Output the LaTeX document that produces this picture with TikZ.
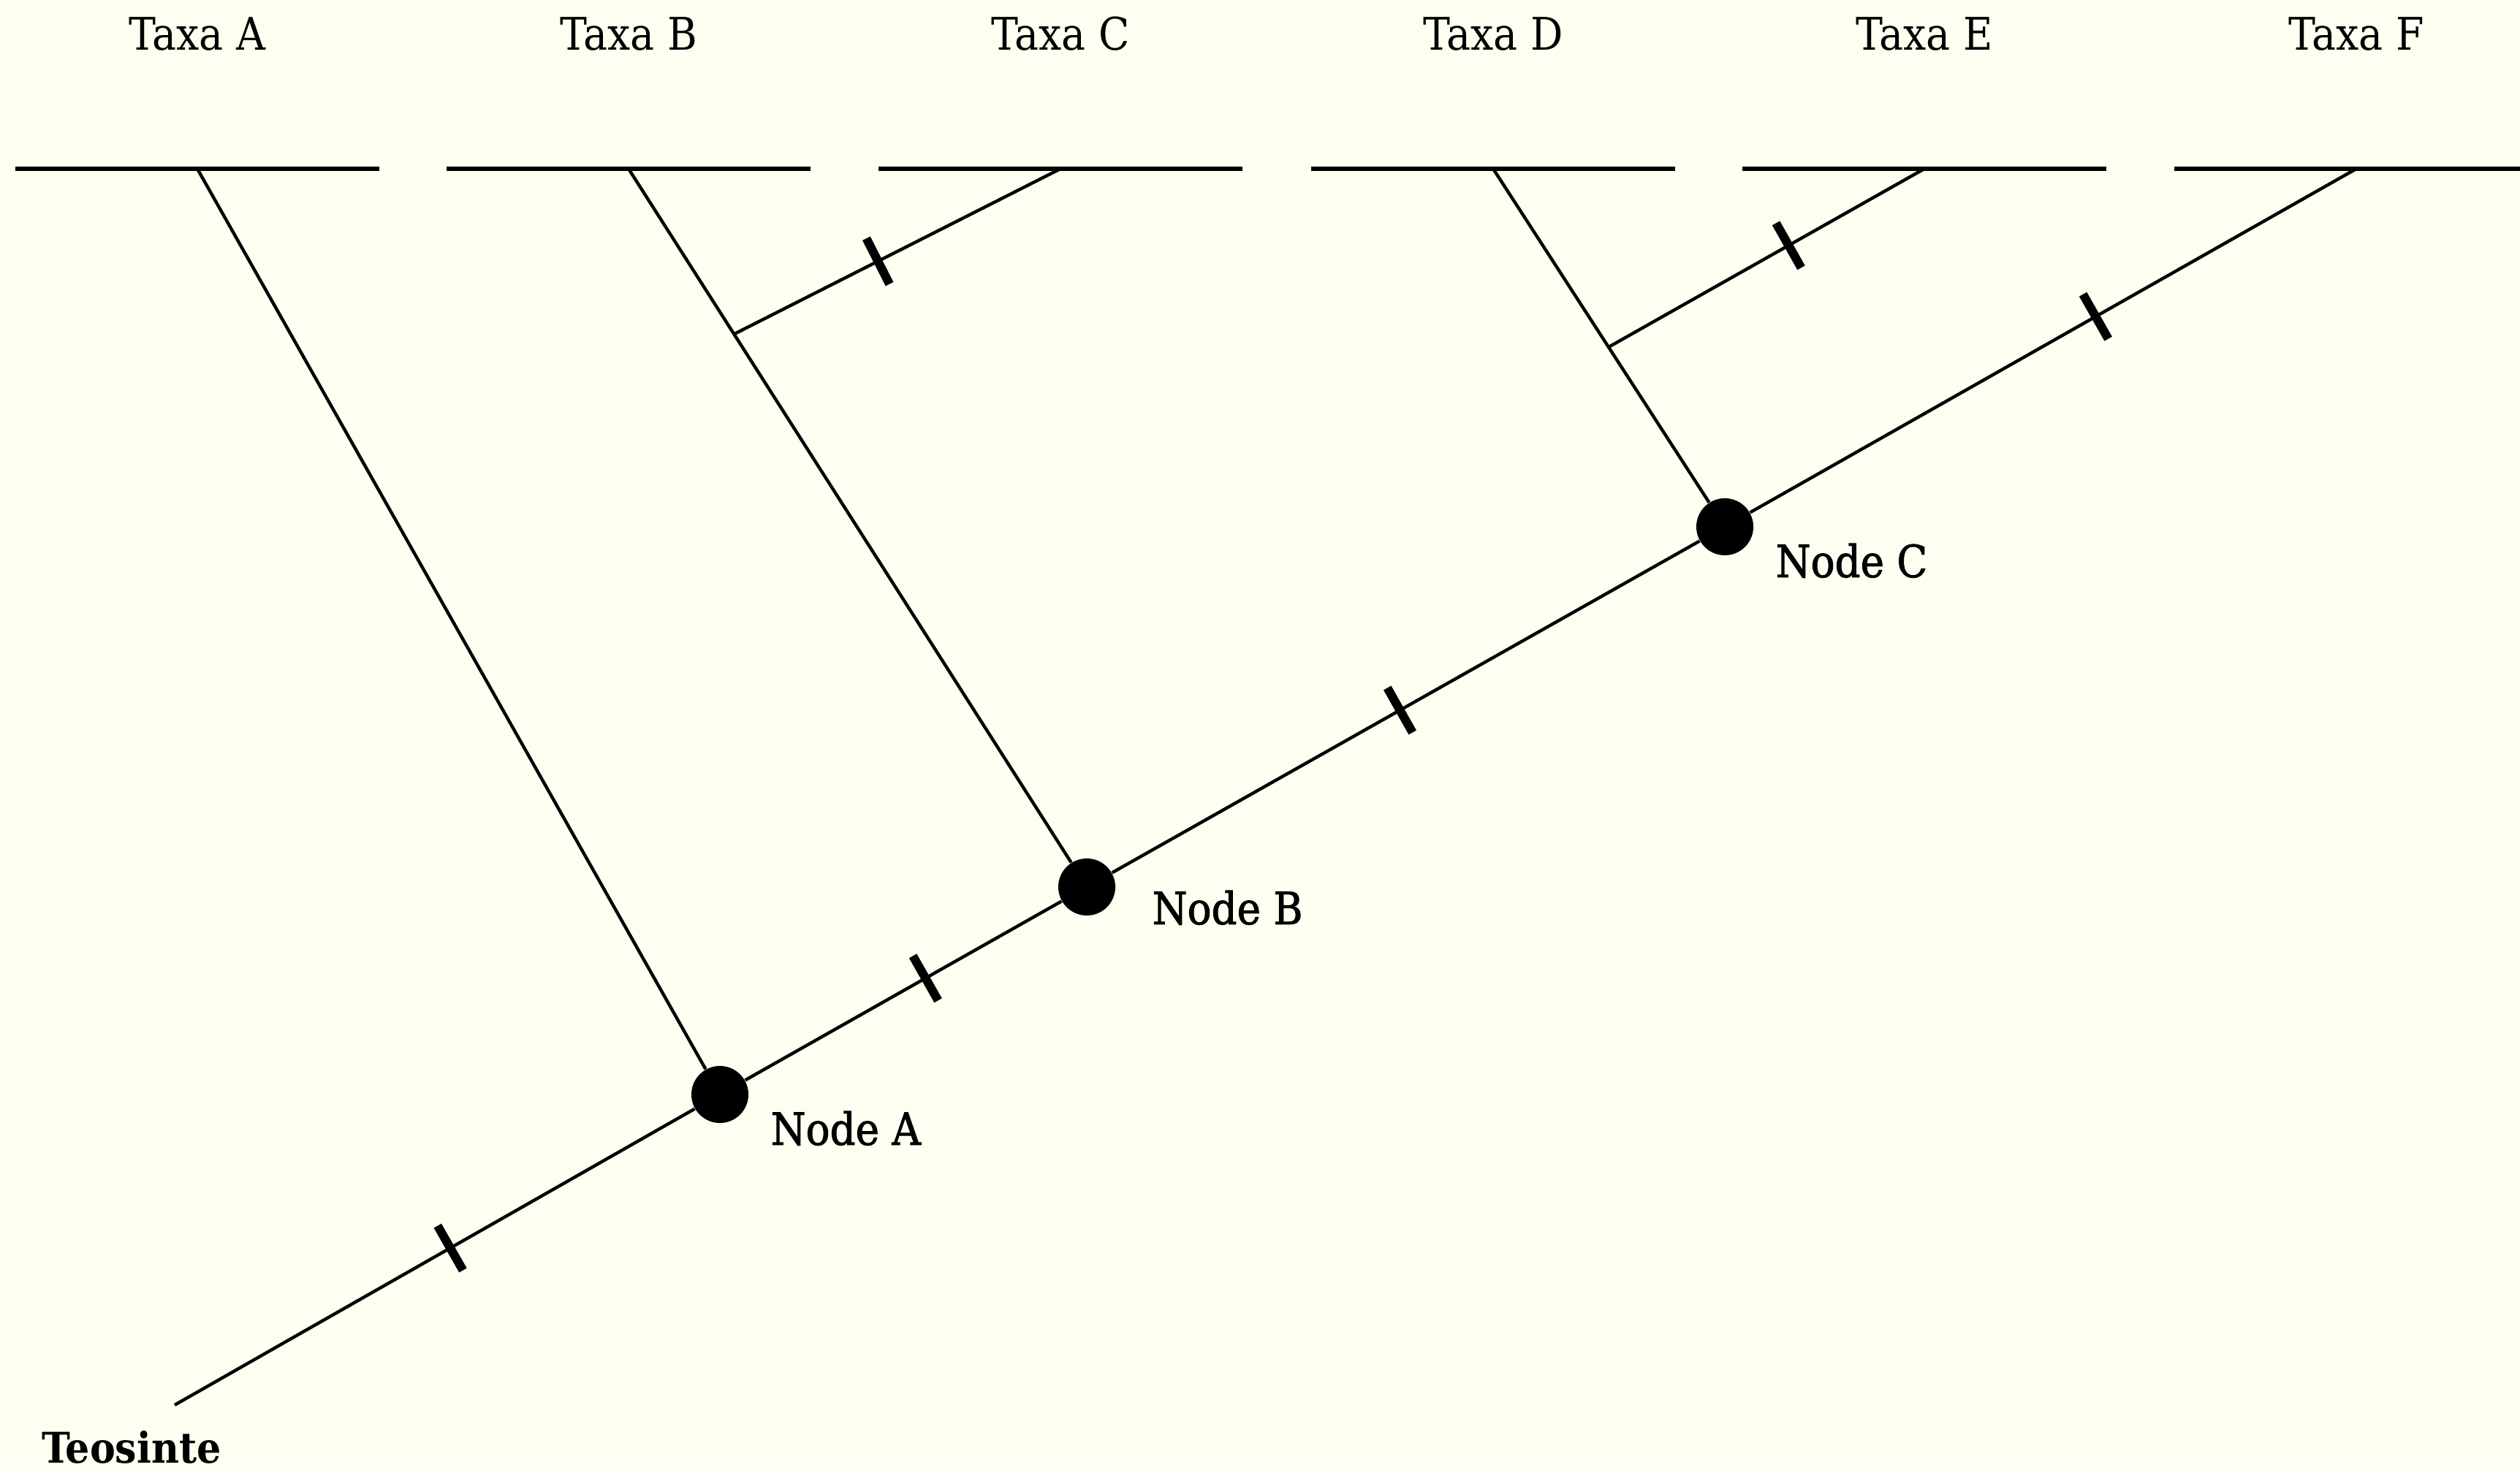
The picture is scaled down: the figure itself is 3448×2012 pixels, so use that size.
\documentclass[tikz,border=0pt]{standalone}
\usepackage{fontspec}
\setmainfont{DejaVu Serif Condensed}
\newfontfamily\nodefont[FakeBold=1.5]{DejaVu Serif Condensed}
\newfontfamily\teofont{DejaVu Serif Condensed Bold}
\usetikzlibrary{calc}
\definecolor{bgcol}{RGB}{254,255,240}
\begin{document}
\begin{tikzpicture}[x=0.01cm,y=-0.01cm,
  branch/.style={line width=1.25pt,black},
  bar/.style={line width=1.6pt,black},
  dot/.style={circle,fill=black,inner sep=0pt,minimum size=0.78cm},
  tickmark/.style={sloped,rectangle,fill=black,inner sep=0pt,minimum width=0.12cm,minimum height=0.7cm},
  taxon/.style={anchor=base,font=\fontsize{17.5}{20}\selectfont},
  nodelabel/.style={anchor=base west,font=\nodefont\fontsize{17.3}{20}\selectfont,inner sep=0pt},
  rootlabel/.style={anchor=base west,font=\teofont\fontsize{16.5}{20}\selectfont,inner sep=0pt}]
\fill[bgcol] (0,0) rectangle (3448,2012);
\useasboundingbox (0,0) rectangle (3448,2012);
% junction coordinates at the top bars
\coordinate (tA) at (270,231);
\coordinate (tB) at (860,231);
\coordinate (tC) at (1451,231);
\coordinate (tD) at (2043,231);
\coordinate (tE) at (2633,231);
\coordinate (tF) at (3224,231);
\coordinate (root) at (239,1923);
\coordinate (jBC) at (1005,457);
\coordinate (jDE) at (2201,475);
% top bars
\foreach \t in {tA,tB,tC,tD,tE,tF}{
  \draw[bar] ($(\t)+(-249,0)$) -- ($(\t)+(249,0)$);
}
% labels
\node[taxon] (lA) at (270,68) {Taxa A};
\node[taxon] (lB) at (860,68) {Taxa B};
\node[taxon] (lC) at (1451,68) {Taxa C};
\node[taxon] (lD) at (2043,68) {Taxa D};
\node[taxon] (lE) at (2633,68) {Taxa E};
\node[taxon] (lF) at (3224,68) {Taxa F};
% node dots
\node[dot] (nA) at (985,1498) {};
\node[dot] (nB) at (1487,1214) {};
\node[dot] (nC) at (2360,721) {};
% branches
\draw[branch] (root) -- (nA) node[tickmark,pos=0.53] {};
\draw[branch] (nA) -- (nB) node[tickmark,pos=0.57] {};
\draw[branch] (nB) -- (nC) node[tickmark,pos=0.49] {};
\draw[branch] (nC) -- (tF) node[tickmark,pos=0.57] {};
\draw[branch] (nA) -- (tA);
\draw[branch] (nB) -- (tB);
\draw[branch] (jBC) -- (tC) node[tickmark,pos=0.44] {};
\draw[branch] (nC) -- (tD);
\draw[branch] (jDE) -- (tE) node[tickmark,pos=0.57] {};
% node labels
\node[nodelabel] (labA) at (1054,1567) {Node A};
\node[nodelabel] (labB) at (1576,1265) {Node B};
\node[nodelabel] (labC) at (2429,790) {Node C};
\node[rootlabel] (labT) at (57,2002) {Teosinte};
\end{tikzpicture}
\end{document}
